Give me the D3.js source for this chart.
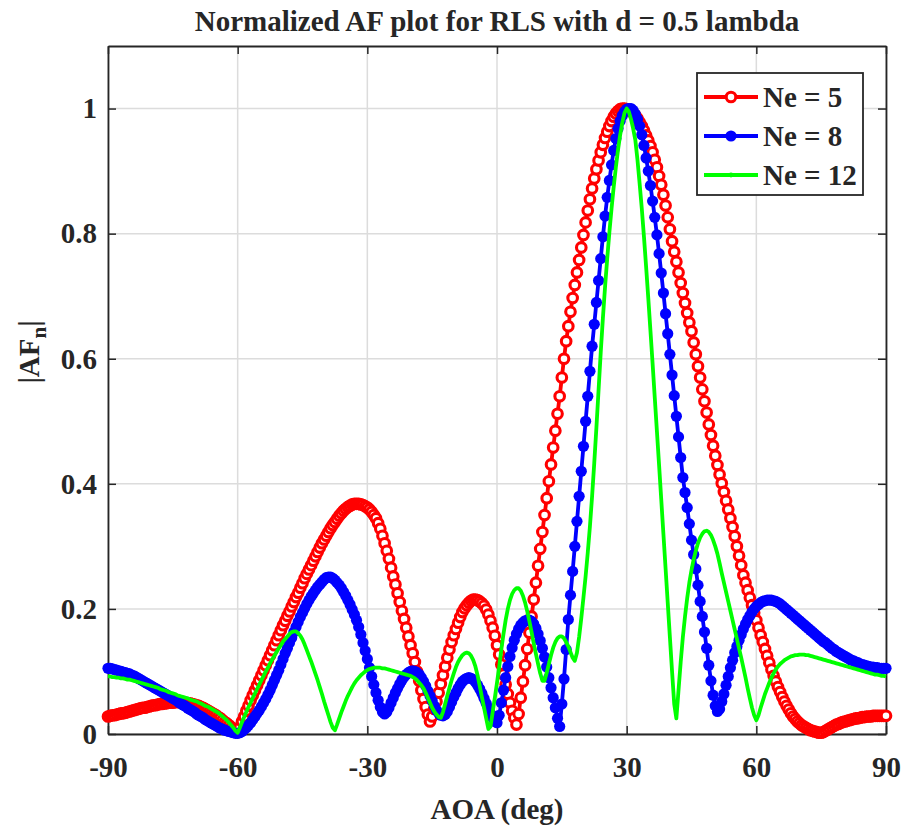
<!DOCTYPE html>
<html>
<head>
<meta charset="utf-8">
<script src="https://cdn.jsdelivr.net/npm/d3@7"></script>
<style>
  body { margin: 0; background: #fff; }
  svg { display: block; }
  text { font-family: "Liberation Serif", "Times New Roman", serif; font-weight: bold; fill: #262626; }
</style>
</head>
<body>
<svg id="vis" width="904" height="826"></svg>
<script>
// angle grid, 0.5 deg steps
const aoa = d3.range(-90, 90.25, 0.5);

// |AF_n|, one row = 5 deg
const ne5 = [
  0.028, 0.029, 0.030, 0.030, 0.031, 0.032, 0.033, 0.033, 0.034, 0.035,
  0.036, 0.037, 0.038, 0.039, 0.040, 0.041, 0.042, 0.042, 0.043, 0.044,
  0.045, 0.046, 0.046, 0.047, 0.048, 0.048, 0.049, 0.049, 0.050, 0.050,
  0.050, 0.051, 0.051, 0.051, 0.051, 0.050, 0.050, 0.049, 0.049, 0.048,
  0.047, 0.046, 0.045, 0.043, 0.042, 0.040, 0.038, 0.036, 0.034, 0.032,
  0.030, 0.027, 0.025, 0.022, 0.019, 0.017, 0.014, 0.011, 0.008, 0.005,
  0.003, 0.011, 0.020, 0.028, 0.037, 0.045, 0.054, 0.062, 0.070, 0.078,
  0.086, 0.094, 0.102, 0.110, 0.118, 0.126, 0.134, 0.142, 0.150, 0.158,
  0.166, 0.174, 0.181, 0.189, 0.196, 0.204, 0.211, 0.219, 0.226, 0.234,
  0.241, 0.249, 0.256, 0.263, 0.270, 0.277, 0.284, 0.291, 0.298, 0.305,
  0.311, 0.317, 0.323, 0.329, 0.334, 0.339, 0.344, 0.349, 0.353, 0.357,
  0.360, 0.363, 0.365, 0.367, 0.368, 0.368, 0.368, 0.367, 0.366, 0.364,
  0.362, 0.359, 0.355, 0.350, 0.345, 0.337, 0.328, 0.317, 0.305, 0.293,
  0.280, 0.266, 0.252, 0.239, 0.225, 0.211, 0.197, 0.184, 0.170, 0.156,
  0.142, 0.129, 0.115, 0.100, 0.085, 0.070, 0.056, 0.043, 0.031, 0.020,
  0.028, 0.040, 0.052, 0.066, 0.080, 0.094, 0.108, 0.122, 0.135, 0.147,
  0.158, 0.168, 0.178, 0.187, 0.195, 0.201, 0.206, 0.210, 0.213, 0.215,
  0.215, 0.214, 0.212, 0.209, 0.205, 0.199, 0.191, 0.181, 0.170, 0.157,
  0.142, 0.127, 0.111, 0.095, 0.079, 0.064, 0.050, 0.037, 0.026, 0.015,
  0.032, 0.058, 0.084, 0.110, 0.136, 0.162, 0.188, 0.215, 0.242, 0.269,
  0.296, 0.323, 0.350, 0.377, 0.404, 0.431, 0.458, 0.485, 0.512, 0.540,
  0.570, 0.600, 0.628, 0.652, 0.675, 0.697, 0.718, 0.738, 0.758, 0.778,
  0.798, 0.818, 0.837, 0.855, 0.872, 0.888, 0.903, 0.917, 0.930, 0.942,
  0.953, 0.963, 0.972, 0.980, 0.987, 0.992, 0.996, 0.999, 1.000, 1.000,
  0.999, 0.998, 0.996, 0.993, 0.989, 0.984, 0.978, 0.972, 0.965, 0.957,
  0.949, 0.940, 0.930, 0.918, 0.906, 0.892, 0.878, 0.862, 0.845, 0.826,
  0.807, 0.788, 0.771, 0.755, 0.738, 0.721, 0.705, 0.689, 0.673, 0.658,
  0.644, 0.626, 0.607, 0.588, 0.570, 0.551, 0.532, 0.514, 0.495, 0.478,
  0.461, 0.445, 0.430, 0.415, 0.401, 0.387, 0.373, 0.359, 0.345, 0.331,
  0.316, 0.300, 0.285, 0.270, 0.254, 0.242, 0.230, 0.218, 0.206, 0.194,
  0.182, 0.170, 0.158, 0.147, 0.136, 0.125, 0.114, 0.103, 0.093, 0.084,
  0.075, 0.067, 0.059, 0.052, 0.045, 0.039, 0.033, 0.028, 0.024, 0.020,
  0.017, 0.014, 0.012, 0.010, 0.008, 0.006, 0.005, 0.004, 0.003, 0.002,
  0.002, 0.003, 0.005, 0.007, 0.009, 0.011, 0.013, 0.015, 0.016, 0.018,
  0.019, 0.020, 0.021, 0.022, 0.023, 0.024, 0.025, 0.025, 0.026, 0.027,
  0.027, 0.028, 0.028, 0.028, 0.029, 0.029, 0.029, 0.029, 0.029, 0.029,
  0.029
];

const ne8 = [
  0.105, 0.105, 0.104, 0.103, 0.102, 0.101, 0.100, 0.099, 0.098, 0.097,
  0.096, 0.094, 0.093, 0.091, 0.089, 0.087, 0.085, 0.083, 0.081, 0.079,
  0.077, 0.075, 0.073, 0.071, 0.069, 0.067, 0.065, 0.063, 0.061, 0.059,
  0.057, 0.055, 0.053, 0.050, 0.048, 0.046, 0.044, 0.041, 0.039, 0.037,
  0.035, 0.032, 0.030, 0.028, 0.026, 0.023, 0.021, 0.019, 0.017, 0.015,
  0.013, 0.011, 0.009, 0.008, 0.006, 0.005, 0.004, 0.003, 0.002, 0.001,
  0.001, 0.002, 0.004, 0.007, 0.010, 0.014, 0.018, 0.023, 0.028, 0.033,
  0.038, 0.044, 0.050, 0.056, 0.063, 0.070, 0.078, 0.086, 0.094, 0.102,
  0.111, 0.120, 0.129, 0.137, 0.146, 0.154, 0.163, 0.171, 0.179, 0.187,
  0.194, 0.201, 0.208, 0.214, 0.220, 0.225, 0.230, 0.235, 0.239, 0.243,
  0.247, 0.250, 0.251, 0.251, 0.249, 0.246, 0.242, 0.238, 0.233, 0.227,
  0.221, 0.214, 0.207, 0.199, 0.191, 0.182, 0.171, 0.159, 0.146, 0.133,
  0.120, 0.106, 0.092, 0.079, 0.066, 0.054, 0.043, 0.035, 0.032, 0.035,
  0.042, 0.050, 0.058, 0.066, 0.073, 0.080, 0.086, 0.091, 0.095, 0.098,
  0.100, 0.101, 0.100, 0.098, 0.095, 0.090, 0.084, 0.077, 0.069, 0.061,
  0.053, 0.045, 0.038, 0.033, 0.030, 0.029, 0.031, 0.036, 0.043, 0.051,
  0.059, 0.066, 0.073, 0.079, 0.084, 0.087, 0.089, 0.090, 0.089, 0.087,
  0.083, 0.078, 0.072, 0.065, 0.057, 0.049, 0.041, 0.033, 0.026, 0.020,
  0.018, 0.030, 0.050, 0.070, 0.090, 0.108, 0.124, 0.138, 0.150, 0.160,
  0.168, 0.174, 0.178, 0.181, 0.182, 0.182, 0.180, 0.176, 0.169, 0.160,
  0.149, 0.137, 0.123, 0.107, 0.090, 0.074, 0.058, 0.042, 0.025, 0.012,
  0.048, 0.088, 0.135, 0.183, 0.222, 0.260, 0.300, 0.340, 0.380, 0.420,
  0.460, 0.500, 0.540, 0.580, 0.620, 0.655, 0.690, 0.725, 0.760, 0.795,
  0.828, 0.858, 0.885, 0.910, 0.933, 0.952, 0.968, 0.980, 0.989, 0.995,
  0.999, 1.000, 1.000, 0.997, 0.991, 0.983, 0.972, 0.958, 0.941, 0.921,
  0.900, 0.877, 0.852, 0.826, 0.798, 0.768, 0.737, 0.705, 0.672, 0.640,
  0.607, 0.574, 0.541, 0.508, 0.475, 0.442, 0.410, 0.386, 0.362, 0.336,
  0.310, 0.287, 0.264, 0.238, 0.212, 0.188, 0.163, 0.137, 0.110, 0.085,
  0.062, 0.045, 0.036, 0.040, 0.052, 0.064, 0.078, 0.092, 0.106, 0.118,
  0.130, 0.140, 0.150, 0.159, 0.168, 0.176, 0.183, 0.189, 0.195, 0.200,
  0.204, 0.207, 0.210, 0.212, 0.213, 0.214, 0.214, 0.214, 0.213, 0.212,
  0.210, 0.208, 0.205, 0.202, 0.199, 0.196, 0.193, 0.190, 0.187, 0.184,
  0.181, 0.178, 0.175, 0.172, 0.169, 0.166, 0.163, 0.160, 0.157, 0.154,
  0.151, 0.148, 0.146, 0.143, 0.140, 0.137, 0.135, 0.132, 0.130, 0.128,
  0.126, 0.124, 0.122, 0.120, 0.118, 0.117, 0.115, 0.114, 0.112, 0.111,
  0.110, 0.109, 0.108, 0.107, 0.107, 0.106, 0.106, 0.105, 0.105, 0.105,
  0.105
];

const ne12 = [
  0.092, 0.092, 0.091, 0.091, 0.090, 0.090, 0.089, 0.089, 0.088, 0.087,
  0.087, 0.086, 0.085, 0.084, 0.083, 0.082, 0.081, 0.080, 0.079, 0.078,
  0.077, 0.076, 0.075, 0.074, 0.072, 0.071, 0.070, 0.069, 0.067, 0.066,
  0.065, 0.064, 0.062, 0.061, 0.060, 0.059, 0.058, 0.057, 0.055, 0.054,
  0.053, 0.052, 0.050, 0.049, 0.047, 0.045, 0.044, 0.042, 0.040, 0.038,
  0.036, 0.034, 0.031, 0.028, 0.025, 0.022, 0.018, 0.014, 0.010, 0.005,
  0.002, 0.010, 0.019, 0.027, 0.035, 0.043, 0.050, 0.058, 0.065, 0.072,
  0.079, 0.086, 0.093, 0.100, 0.106, 0.113, 0.119, 0.125, 0.131, 0.137,
  0.142, 0.148, 0.152, 0.156, 0.160, 0.163, 0.164, 0.164, 0.161, 0.157,
  0.151, 0.143, 0.134, 0.125, 0.116, 0.106, 0.096, 0.086, 0.075, 0.064,
  0.052, 0.041, 0.030, 0.019, 0.010, 0.006, 0.015, 0.025, 0.035, 0.044,
  0.053, 0.061, 0.068, 0.075, 0.081, 0.086, 0.090, 0.094, 0.097, 0.100,
  0.102, 0.104, 0.105, 0.106, 0.106, 0.106, 0.106, 0.105, 0.105, 0.104,
  0.103, 0.102, 0.101, 0.100, 0.099, 0.098, 0.097, 0.096, 0.095, 0.094,
  0.093, 0.091, 0.089, 0.086, 0.082, 0.078, 0.073, 0.066, 0.058, 0.050,
  0.042, 0.036, 0.031, 0.027, 0.026, 0.035, 0.048, 0.061, 0.074, 0.086,
  0.097, 0.107, 0.115, 0.121, 0.126, 0.129, 0.130, 0.129, 0.125, 0.118,
  0.108, 0.094, 0.077, 0.059, 0.042, 0.025, 0.008, 0.012, 0.035, 0.058,
  0.082, 0.107, 0.135, 0.160, 0.182, 0.200, 0.214, 0.224, 0.230, 0.233,
  0.233, 0.229, 0.221, 0.210, 0.196, 0.180, 0.163, 0.145, 0.128, 0.112,
  0.097, 0.085, 0.085, 0.098, 0.112, 0.126, 0.138, 0.147, 0.153, 0.156,
  0.156, 0.153, 0.147, 0.140, 0.131, 0.122, 0.117, 0.130, 0.155, 0.185,
  0.218, 0.252, 0.290, 0.332, 0.380, 0.433, 0.490, 0.550, 0.610, 0.665,
  0.715, 0.760, 0.802, 0.840, 0.875, 0.906, 0.934, 0.958, 0.978, 0.993,
  1.000, 0.995, 0.983, 0.968, 0.950, 0.918, 0.880, 0.840, 0.795, 0.747,
  0.697, 0.645, 0.592, 0.538, 0.484, 0.430, 0.375, 0.320, 0.265, 0.210,
  0.155, 0.100, 0.048, 0.025, 0.070, 0.115, 0.155, 0.188, 0.217, 0.242,
  0.262, 0.279, 0.293, 0.305, 0.314, 0.320, 0.324, 0.325, 0.323, 0.318,
  0.310, 0.300, 0.288, 0.273, 0.257, 0.242, 0.227, 0.212, 0.197, 0.182,
  0.167, 0.152, 0.137, 0.122, 0.106, 0.090, 0.073, 0.057, 0.042, 0.030,
  0.022, 0.030, 0.042, 0.053, 0.064, 0.073, 0.082, 0.090, 0.097, 0.103,
  0.108, 0.112, 0.115, 0.118, 0.120, 0.122, 0.124, 0.125, 0.126, 0.126,
  0.127, 0.127, 0.127, 0.126, 0.126, 0.125, 0.124, 0.123, 0.122, 0.121,
  0.120, 0.119, 0.118, 0.117, 0.116, 0.115, 0.114, 0.113, 0.112, 0.111,
  0.110, 0.109, 0.108, 0.107, 0.106, 0.105, 0.104, 0.103, 0.102, 0.101,
  0.100, 0.099, 0.098, 0.097, 0.096, 0.095, 0.095, 0.094, 0.093, 0.093,
  0.092
];

const seriesNames = ["Ne = 5", "Ne = 8", "Ne = 12"];
const xTicks = [-90, -60, -30, 0, 30, 60, 90];
const yTicks = [0, 0.2, 0.4, 0.6, 0.8, 1];

const series = [
  { name: seriesNames[0], values: ne5, color: "#ff0000", marker: "ring" },
  { name: seriesNames[1], values: ne8, color: "#0000ff", marker: "dot" },
  { name: seriesNames[2], values: ne12, color: "#00ff00", marker: "none" }
];

const svg = d3.select("#vis");
const box = { left: 108, right: 886, top: 46, bottom: 734 };
const fs = 29;

// SCALES
const x = d3.scaleLinear().domain([-90, 90]).range([box.left, box.right]);
const y = d3.scaleLinear().domain([0, 1.1]).range([box.bottom, box.top]);

// grid
const grid = svg.append("g").attr("stroke", "#dcdcdc").attr("stroke-width", 1.5);
grid.selectAll(".gx").data(xTicks).join("line")
  .attr("x1", d => x(d)).attr("x2", d => x(d))
  .attr("y1", box.top).attr("y2", box.bottom);
grid.selectAll(".gy").data(yTicks).join("line")
  .attr("x1", box.left).attr("x2", box.right)
  .attr("y1", d => y(d)).attr("y2", d => y(d));

// axes, ticks inside like matlab
function styleAxis(g) {
  g.selectAll(".domain").attr("stroke", "#262626").attr("stroke-width", 1.8);
  g.selectAll(".tick line").attr("stroke", "#262626").attr("stroke-width", 1.5);
  g.selectAll(".tick text")
    .attr("font-size", fs)
    .attr("font-family", '"Liberation Serif", serif')
    .attr("font-weight", "bold")
    .attr("fill", "#262626");
}

svg.append("g")
  .attr("transform", `translate(0,${box.bottom})`)
  .call(d3.axisBottom(x).tickValues(xTicks).tickFormat(String).tickSize(-8).tickSizeOuter(0).tickPadding(22))
  .call(styleAxis)
  .selectAll(".tick text").attr("dy", "0.72em");

svg.append("g")
  .attr("transform", `translate(${box.left},0)`)
  .call(d3.axisLeft(y).tickValues(yTicks).tickFormat(String).tickSize(-8).tickSizeOuter(0).tickPadding(11))
  .call(styleAxis);

svg.append("g")
  .attr("transform", `translate(0,${box.top})`)
  .call(d3.axisTop(x).tickValues(xTicks).tickFormat("").tickSize(-8).tickSizeOuter(0))
  .call(styleAxis);

svg.append("g")
  .attr("transform", `translate(${box.right},0)`)
  .call(d3.axisRight(y).tickValues(yTicks).tickFormat("").tickSize(-8).tickSizeOuter(0))
  .call(styleAxis);

// curves
const line = d3.line()
  .x((d, i) => x(aoa[i]))
  .y(d => y(d));

series.forEach(s => {
  const g = svg.append("g");
  g.append("path")
    .datum(s.values)
    .attr("fill", "none")
    .attr("stroke", s.color)
    .attr("stroke-width", 3.8)
    .attr("stroke-linejoin", "round")
    .attr("d", line);

  if (s.marker === "ring") {
    g.selectAll("circle").data(s.values).join("circle")
      .attr("cx", (d, i) => x(aoa[i]))
      .attr("cy", d => y(d))
      .attr("r", 4.8)
      .attr("fill", "#fff")
      .attr("stroke", s.color)
      .attr("stroke-width", 3.1);
  } else if (s.marker === "dot") {
    g.selectAll("circle").data(s.values).join("circle")
      .attr("cx", (d, i) => x(aoa[i]))
      .attr("cy", d => y(d))
      .attr("r", 5.6)
      .attr("fill", s.color);
  }
});

// title + labels
svg.append("text")
  .attr("x", (box.left + box.right) / 2).attr("y", 31)
  .attr("text-anchor", "middle").attr("font-size", fs)
  .text("Normalized AF plot for RLS with d = 0.5 lambda");

svg.append("text")
  .attr("x", (box.left + box.right) / 2).attr("y", 819)
  .attr("text-anchor", "middle").attr("font-size", fs)
  .text("AOA (deg)");

const yl = svg.append("text")
  .attr("transform", `translate(39,352) rotate(-90)`)
  .attr("text-anchor", "middle").attr("font-size", fs);
yl.append("tspan").text("|AF");
yl.append("tspan").attr("dy", 7).attr("font-size", 21).text("n");
yl.append("tspan").attr("dy", -7).text("|");

// legend
const lg = svg.append("g").attr("transform", "translate(697,73)");
lg.append("rect")
  .attr("width", 166).attr("height", 122)
  .attr("fill", "#fff").attr("stroke", "#262626").attr("stroke-width", 1.8);

series.forEach((s, i) => {
  const cy = 24 + i * 39;
  lg.append("line")
    .attr("x1", 7).attr("x2", 61).attr("y1", cy).attr("y2", cy)
    .attr("stroke", s.color).attr("stroke-width", 3.8);
  if (s.marker === "ring") {
    lg.append("circle").attr("cx", 34).attr("cy", cy).attr("r", 4.8)
      .attr("fill", "#fff").attr("stroke", s.color).attr("stroke-width", 3.1);
  } else if (s.marker === "dot") {
    lg.append("circle").attr("cx", 34).attr("cy", cy).attr("r", 5.6).attr("fill", s.color);
  } else {
    lg.append("circle").attr("cx", 34).attr("cy", cy).attr("r", 2.4).attr("fill", s.color);
  }
  lg.append("text")
    .attr("x", 66).attr("y", cy + 10)
    .attr("font-size", fs)
    .text(s.name);
});
</script>
</body>
</html>
